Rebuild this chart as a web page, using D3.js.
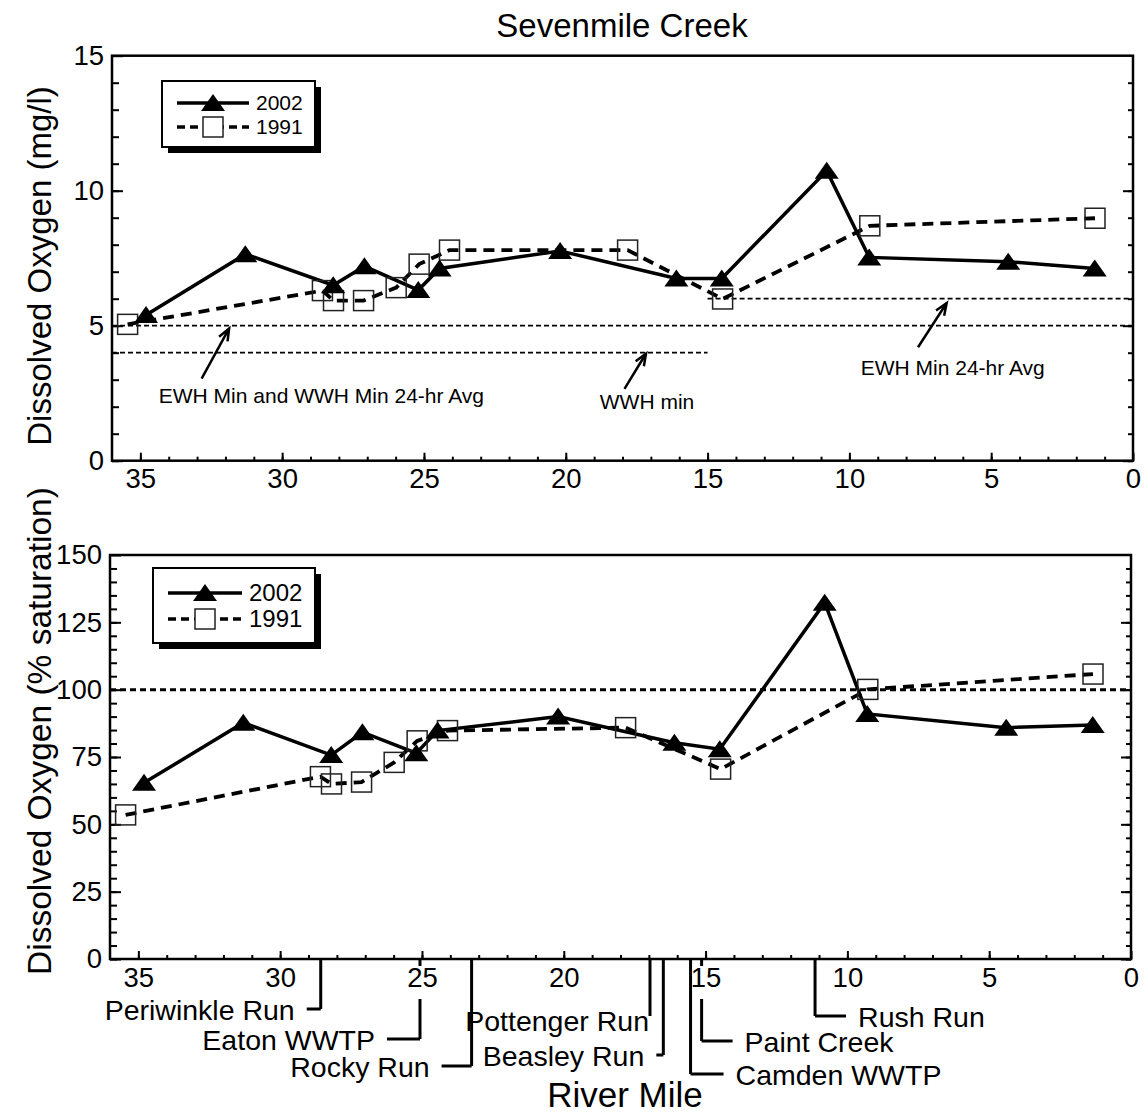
<!DOCTYPE html>
<html>
<head>
<meta charset="utf-8">
<script src="https://cdn.jsdelivr.net/npm/d3@7"></script>
<style>
  body { margin: 0; background: #fff; }
  svg { font-family: "Liberation Sans", Arial, sans-serif; }
</style>
</head>
<body>
<div id="chart"></div>
<script>
// river miles of the sampling sites
const miles2002 = [34.8, 31.3, 28.2, 27.1, 25.2, 24.45, 20.2, 16.1, 14.5, 10.8, 9.3, 4.4, 1.35];
const miles1991 = [35.45, 28.58, 28.19, 27.13, 25.98, 25.17, 24.1, 17.82, 14.47, 9.28, 1.34];

// dissolved oxygen, mg/l
const do2002 = [5.4, 7.65, 6.5, 7.2, 6.32, 7.12, 7.77, 6.75, 6.75, 10.74, 7.53, 7.37, 7.12];
const do1991 = [5.05, 6.3, 5.93, 5.93, 6.41, 7.28, 7.8, 7.8, 5.99, 8.7, 8.98];

// dissolved oxygen, % saturation
const sat2002 = [65.4, 87.7, 75.7, 84.2, 76.4, 84.8, 90, 80.3, 77.9, 132.3, 91, 85.9, 86.9];
const sat1991 = [53.5, 67.7, 65, 65.7, 73, 81, 84.8, 85.9, 70.5, 100.1, 105.8];

const seriesNames = ["2002", "1991"];

// criteria lines (value, from mile, to mile)
const criteriaTop = [[5, 36, 0], [4, 36, 15], [6, 15, 0]];
const criteriaBottom = [[100, 36, 0]];

// criteria notes: text, text mile, text value, arrow tail [mile, value], arrow head [mile, value]
const noteTexts = ["EWH Min and WWH Min 24-hr Avg", "WWH min", "EWH Min 24-hr Avg"];
const noteAt = [[34.35, 2.15], [18.8, 1.9], [9.6, 3.17]];
const arrowTail = [[32.84, 3.04], [17.93, 2.66], [7.58, 4.2]];
const arrowHead = [[31.87, 4.9], [17.17, 3.97], [6.57, 5.84]];

// tributaries / discharges along the river
const tribNames = ["Periwinkle Run", "Eaton WWTP", "Rocky Run", "Pottenger Run", "Beasley Run", "Camden WWTP", "Paint Creek", "Rush Run"];
const tribMiles = [28.57, 25.07, 23.25, 16.96, 16.49, 15.53, 15.14, 11.14];
// label layout: drop below axis, hook length, side (-1 left, 1 right)
const tribDrop = [50, 80, 107, 57, 96, 115, 82, 57];
const tribHook = [14, 33, 30, 0, 7, 33, 31, 31];
const tribSide = [-1, -1, -1, -1, -1, 1, 1, 1];

const W = 1146, H = 1116;
const svg = d3.select("#chart").append("svg")
  .attr("width", W).attr("height", H);

const triPath = "M0,-9L12,8L-12,8Z";

function drawPanel (p) {
  const x = d3.scaleLinear().domain([36, 0]).range([p.left, p.right]);
  const y = d3.scaleLinear().domain([0, p.yMax]).range([p.bottom, p.top]);
  const g = svg.append("g");

  // minor and major ticks, pointing inward
  const axes = [
    [d3.axisBottom(x).tickValues(d3.range(1, 36)).tickSize(-4).tickFormat(""), `translate(0,${p.bottom})`],
    [d3.axisBottom(x).tickValues(d3.range(0, 36, 5)).tickSize(-8).tickPadding(8), `translate(0,${p.bottom})`],
    [d3.axisLeft(y).tickValues(d3.range(0, p.yMax, p.yMinor)).tickSize(-7).tickFormat(""), `translate(${p.left},0)`],
    [d3.axisLeft(y).tickValues(d3.range(0, p.yMax + 1, p.yMajor)).tickSize(-11).tickPadding(8), `translate(${p.left},0)`],
    [d3.axisRight(y).tickValues(d3.range(0, p.yMax, p.yMinor)).tickSize(-5).tickFormat(""), `translate(${p.right},0)`],
    [d3.axisRight(y).tickValues(d3.range(0, p.yMax, p.yMajor)).tickSize(-10).tickFormat(""), `translate(${p.right},0)`]
  ];
  axes.forEach(([ax, tr]) => {
    const a = g.append("g").attr("transform", tr).call(ax);
    a.select(".domain").remove();
    a.selectAll("line").attr("stroke", "#000").attr("stroke-width", 2);
    a.selectAll("text").attr("fill", "#000")
      .style("font-family", "'Liberation Sans', Arial, sans-serif")
      .style("font-size", "27.5px");
  });

  g.append("rect")
    .attr("x", p.left).attr("y", p.top)
    .attr("width", p.right - p.left).attr("height", p.bottom - p.top)
    .attr("fill", "none").attr("stroke", "#000").attr("stroke-width", 2.5);

  // criteria lines
  g.selectAll(".crit").data(p.criteria).enter().append("line")
    .attr("x1", d => x(d[1])).attr("x2", d => x(d[2]))
    .attr("y1", d => y(d[0])).attr("y2", d => y(d[0]))
    .attr("stroke", "#000")
    .attr("stroke-width", p.critWidth)
    .attr("stroke-dasharray", p.critDash);

  const line = d3.line().x(d => x(d[0])).y(d => y(d[1]));
  const pts1991 = miles1991.map((m, i) => [m, p.v1991[i]]);
  const pts2002 = miles2002.map((m, i) => [m, p.v2002[i]]);

  g.append("path").datum(pts1991).attr("d", line)
    .attr("fill", "none").attr("stroke", "#000").attr("stroke-width", 3.8)
    .attr("stroke-dasharray", "11,7");
  g.append("path").datum(pts2002).attr("d", line)
    .attr("fill", "none").attr("stroke", "#000").attr("stroke-width", 3.5);

  g.selectAll(".sq").data(pts1991).enter().append("rect")
    .attr("x", d => x(d[0]) - 10).attr("y", d => y(d[1]) - 10)
    .attr("width", 20).attr("height", 20)
    .attr("fill", "none").attr("stroke", "#222").attr("stroke-width", 1.5);
  g.selectAll(".tri").data(pts2002).enter().append("path")
    .attr("d", triPath)
    .attr("transform", d => `translate(${x(d[0])},${y(d[1])})`)
    .attr("fill", "#000");

  // legend
  const L = p.legend;
  g.append("rect").attr("x", L.x + 6).attr("y", L.y + 6)
    .attr("width", L.w).attr("height", L.h).attr("fill", "#000");
  g.append("rect").attr("x", L.x).attr("y", L.y)
    .attr("width", L.w).attr("height", L.h)
    .attr("fill", "#fff").attr("stroke", "#000").attr("stroke-width", 2);
  seriesNames.forEach((name, i) => {
    const ry = L.y + L.row0 + i * L.rowGap;
    const mx = (L.x1 + L.x2) / 2;
    g.append("line").attr("x1", L.x1).attr("x2", L.x2).attr("y1", ry).attr("y2", ry)
      .attr("stroke", "#000").attr("stroke-width", 3.5)
      .attr("stroke-dasharray", i === 0 ? null : "8,5");
    if (i === 0) {
      g.append("path").attr("d", triPath).attr("transform", `translate(${mx},${ry})`).attr("fill", "#000");
    } else {
      g.append("rect").attr("x", mx - 10).attr("y", ry - 10).attr("width", 20).attr("height", 20)
        .attr("fill", "#fff").attr("stroke", "#222").attr("stroke-width", 1.5);
    }
    g.append("text").attr("x", L.x2 + 7).attr("y", ry).attr("dy", "0.35em")
      .style("font-size", L.font + "px").text(name);
  });

  // y title
  svg.append("text")
    .attr("transform", `translate(${p.yTitleX},${p.yTitleY}) rotate(-90)`)
    .attr("text-anchor", "middle")
    .style("font-size", p.yTitleSize + "px")
    .text(p.yTitle);

  return { x, y, g };
}

const topPanel = drawPanel({
  left: 112, right: 1133, top: 55.7, bottom: 460.7,
  yMax: 15, yMajor: 5, yMinor: 1,
  v2002: do2002, v1991: do1991,
  criteria: criteriaTop, critWidth: 1.8, critDash: "5,3",
  legend: { x: 162, y: 81, w: 153, h: 66, row0: 22, rowGap: 24, x1: 177, x2: 249, font: 21 },
  yTitle: "Dissolved Oxygen (mg/l)", yTitleX: 51, yTitleY: 266, yTitleSize: 33
});

const bottomPanel = drawPanel({
  left: 110, right: 1131, top: 555, bottom: 959,
  yMax: 150, yMajor: 25, yMinor: 5,
  v2002: sat2002, v1991: sat1991,
  criteria: criteriaBottom, critWidth: 3, critDash: "6,4",
  legend: { x: 153, y: 568, w: 162, h: 75, row0: 25, rowGap: 26, x1: 168, x2: 242, font: 24 },
  yTitle: "Dissolved Oxygen (% saturation)", yTitleX: 51, yTitleY: 731, yTitleSize: 33.5
});

// criteria notes and arrows on the top panel
noteTexts.forEach((t, i) => {
  topPanel.g.append("text")
    .attr("x", topPanel.x(noteAt[i][0])).attr("y", topPanel.y(noteAt[i][1]))
    .style("font-size", "21px").text(t);
  const x1 = topPanel.x(arrowTail[i][0]), y1 = topPanel.y(arrowTail[i][1]);
  const x2 = topPanel.x(arrowHead[i][0]), y2 = topPanel.y(arrowHead[i][1]);
  const a = Math.atan2(y2 - y1, x2 - x1);
  const hl = 13, sp = 0.38;
  topPanel.g.append("path")
    .attr("d", `M${x1},${y1}L${x2},${y2}` +
      `M${x2 - hl * Math.cos(a - sp)},${y2 - hl * Math.sin(a - sp)}L${x2},${y2}` +
      `L${x2 - hl * Math.cos(a + sp)},${y2 - hl * Math.sin(a + sp)}`)
    .attr("fill", "none").attr("stroke", "#000").attr("stroke-width", 2.5);
});

// tributary markers under the river mile axis
const axisY = 959;
tribNames.forEach((name, i) => {
  const tx = bottomPanel.x(tribMiles[i]);
  const ty = axisY + tribDrop[i];
  const nearLabel = Math.abs(tribMiles[i] - Math.round(tribMiles[i] / 5) * 5) < 0.3;
  const d = nearLabel
    ? `M${tx},${axisY}V${axisY + 7}M${tx},${axisY + 40}V${ty}`
    : `M${tx},${axisY}V${ty}`;
  const hookEnd = tx + tribSide[i] * tribHook[i];
  bottomPanel.g.append("path")
    .attr("d", d + `M${tx},${ty}H${hookEnd}`)
    .attr("fill", "none").attr("stroke", "#000").attr("stroke-width", 3);
  const gap = tribHook[i] === 0 ? 1 : 12;
  bottomPanel.g.append("text")
    .attr("x", hookEnd + tribSide[i] * gap)
    .attr("y", ty + (tribHook[i] === 0 ? 5 : 1))
    .attr("dy", "0.35em")
    .attr("text-anchor", tribSide[i] < 0 ? "end" : "start")
    .style("font-size", "28.5px")
    .text(name);
});

svg.append("text").attr("x", 622).attr("y", 37)
  .attr("text-anchor", "middle").style("font-size", "33px")
  .text("Sevenmile Creek");

svg.append("text").attr("x", 625).attr("y", 1107)
  .attr("text-anchor", "middle").style("font-size", "35px")
  .text("River Mile");
</script>
</body>
</html>
